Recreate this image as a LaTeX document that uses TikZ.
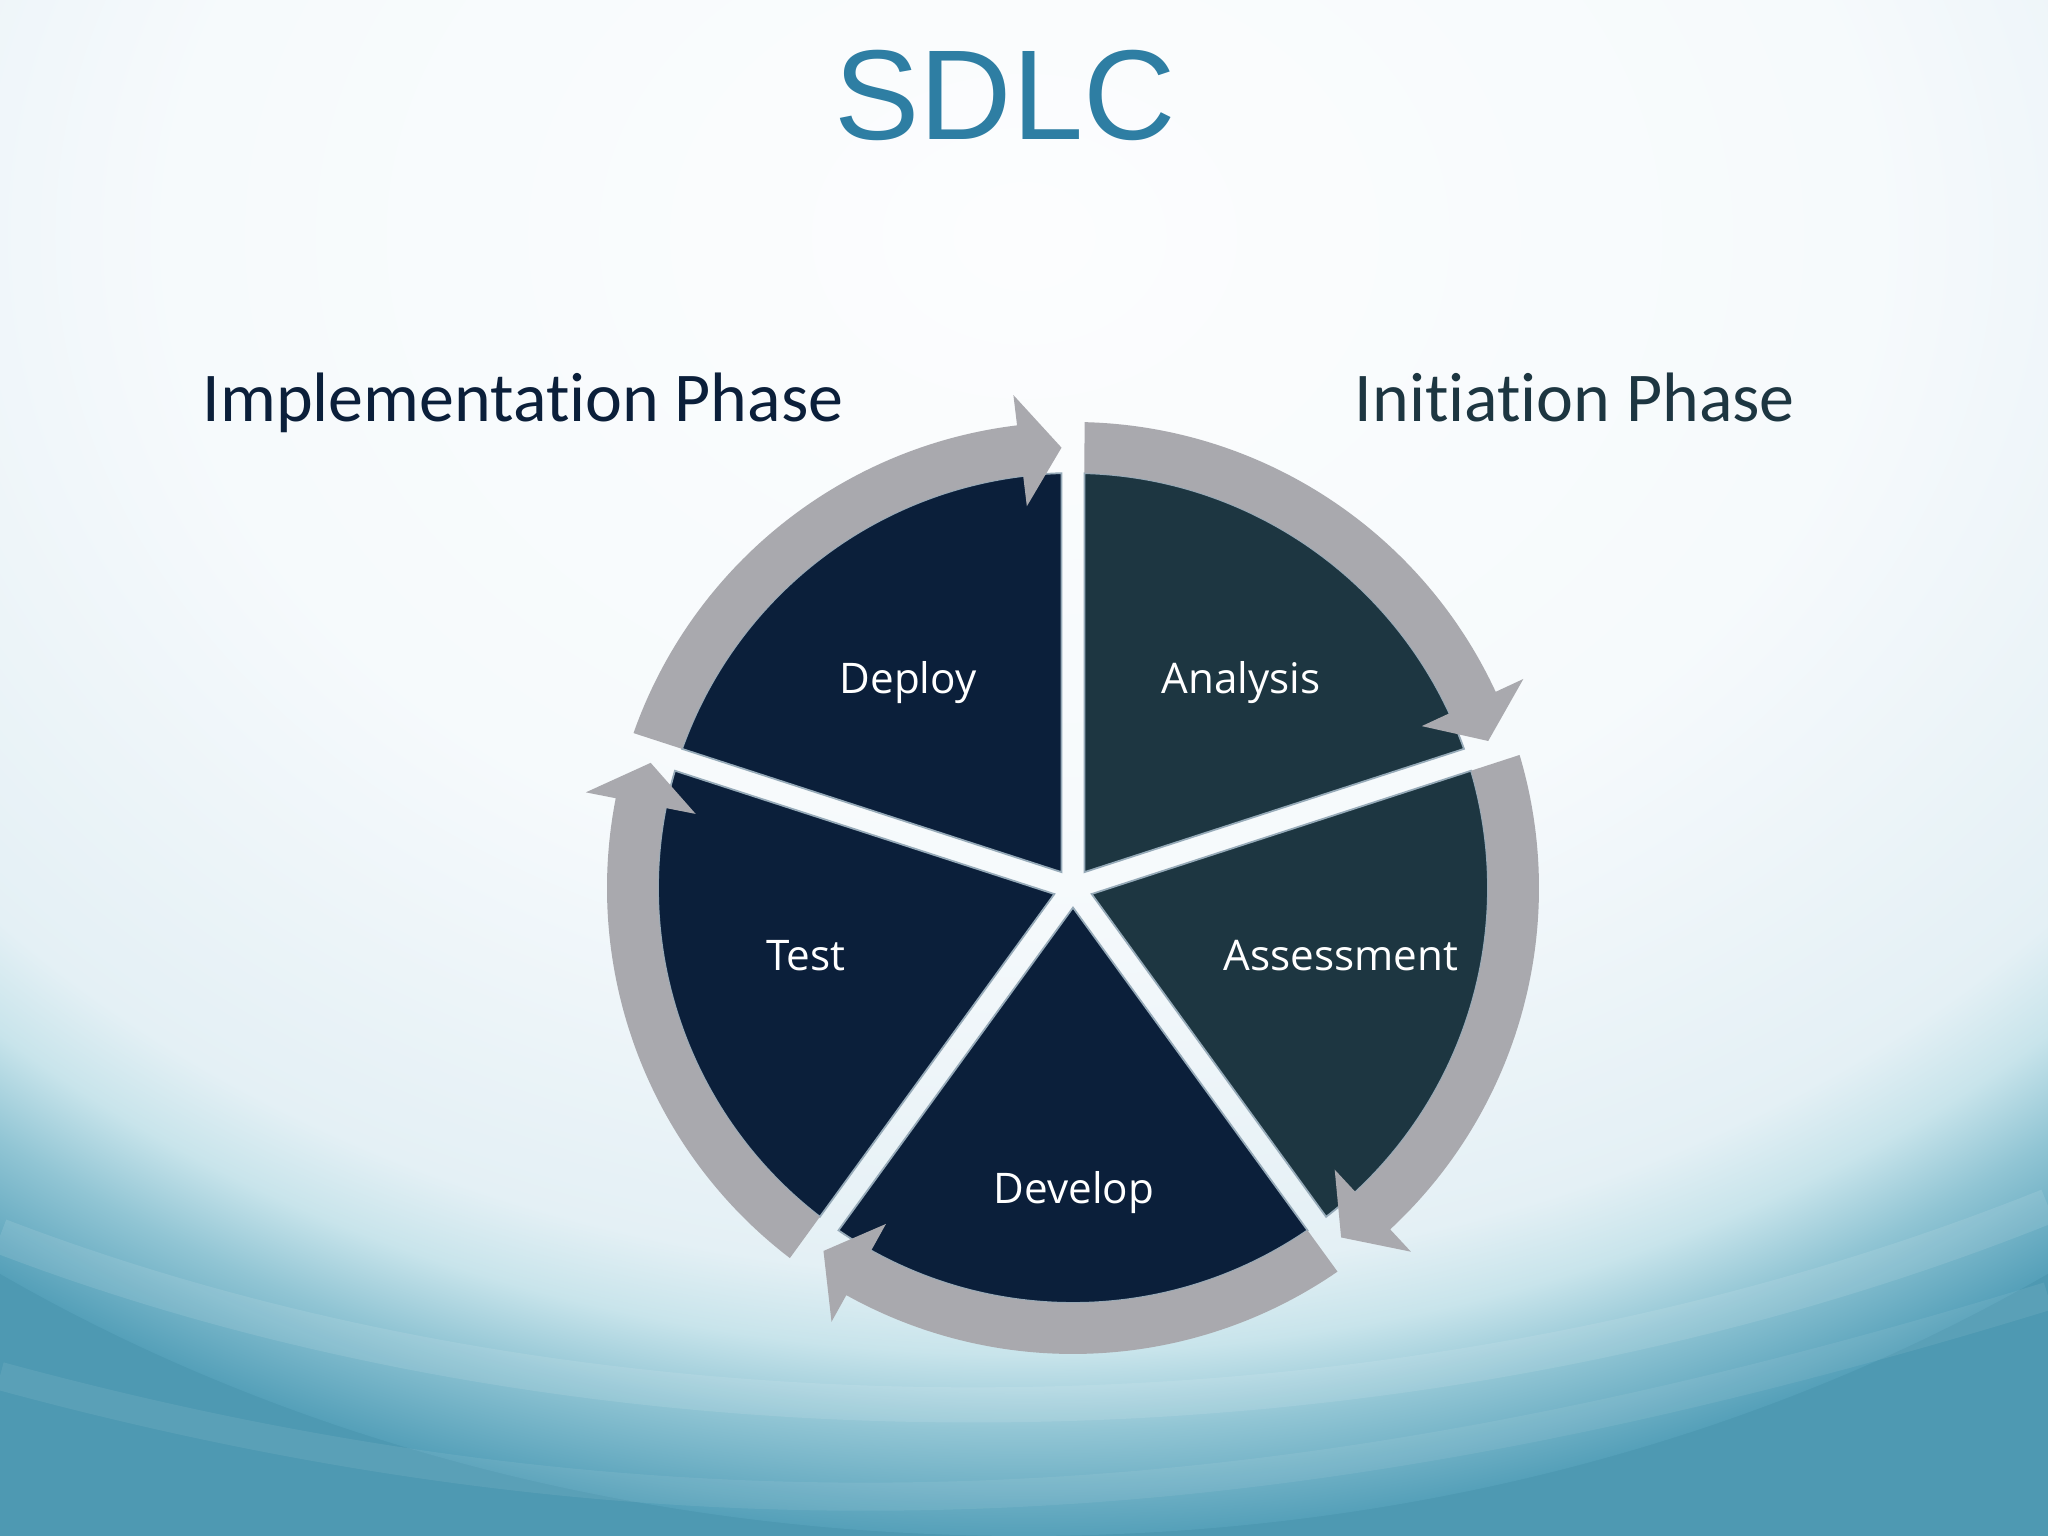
\documentclass[tikz,border=0pt]{standalone}
\usepackage{fontspec}
\setmainfont{Carlito}[Ligatures=NoCommon]
\newfontfamily\titlefont{Liberation Sans}
\newfontfamily\stagefont{Open Sans}
\definecolor{navy}{RGB}{11,31,58}
\definecolor{tealdark}{RGB}{29,54,65}
\definecolor{ringgray}{RGB}{169,169,174}
\definecolor{sliceedge}{RGB}{150,170,184}
\definecolor{titleblue}{RGB}{46,126,163}
\definecolor{bgcore}{RGB}{252,253,254}
\definecolor{bgtop}{RGB}{246,250,252}
\definecolor{bgsoft}{RGB}{238,245,249}
\definecolor{bgpale}{RGB}{228,240,245}
\definecolor{bglight}{RGB}{200,228,235}
\definecolor{bgmid}{RGB}{145,197,212}
\definecolor{bgdeep}{RGB}{85,160,185}
\definecolor{bgteal}{RGB}{78,153,178}
\pgfdeclareradialshading{bgglow}{\pgfpoint{0bp}{0bp}}{color(0bp)=(bgcore); color(12.5bp)=(bgtop); color(16bp)=(bgsoft); color(20bp)=(bgpale); color(21.5bp)=(bglight); color(23bp)=(bgmid); color(25bp)=(bgdeep); color(50bp)=(bgteal)}
\begin{document}
\begin{tikzpicture}[
  phase/.style={anchor=base west, inner sep=0pt, font=\fontsize{19.9}{24}\selectfont},
  stage/.style={anchor=base, text=white, font=\stagefont\fontsize{12}{14}\selectfont}]
\useasboundingbox (0,0) rectangle (20.48,15.36);
% background
\begin{scope}
  \clip (0,0) rectangle (20.48,15.36);
  \fill[bgteal] (0,0) rectangle (20.48,15.36);
  \shade[shading=bgglow] (10.24,13) ellipse [x radius=17, y radius=13];
  \draw[white, opacity=.1, line width=10pt] (0,3.0) .. controls (6,0.7) and (14,0.7) .. (20.48,3.3);
  \draw[white, opacity=.07, line width=8pt] (0,1.6) .. controls (7,-0.3) and (13,0.1) .. (20.48,2.4);
\end{scope}
\node[anchor=base, text=titleblue, font=\titlefont\fontsize{36.4}{40}\selectfont] (title) at (10.05,13.96) {SDLC};
\node[phase, text=navy] (impl) at (2.02,11.14) {Implementation Phase};
\node[phase, text=tealdark] (init) at (13.54,11.14) {Initiation Phase};
% wheel
\def\gap{0.115}
\def\rin{4.15}
\def\rmid{4.405}
\def\rout{4.66}
\begin{scope}[shift={(10.73,6.48)}]
\foreach \a/\col in {90/tealdark,18/tealdark,-54/navy,-126/navy,162/navy} {
  \pgfmathsetmacro\dinn{asin(\gap/\rin)}
  \fill[\col, draw=sliceedge, line width=.5pt] (\a-36:0.196) -- (\a-\dinn:\rin)
    arc[start angle=\a-\dinn, end angle=\a-72+\dinn, radius=\rin] -- cycle;
}
\foreach \a in {90,18,-54,-126,162} {
  \pgfmathsetmacro\dinn{asin(\gap/\rin)}
  \pgfmathsetmacro\dout{asin(\gap/\rout)}
  \pgfmathsetmacro\tipa{\a-72+asin(\gap/\rmid)}
  \pgfmathsetmacro\basea{\tipa+5.4}
  \fill[ringgray] (\a-\dout:\rout)
    arc[start angle=\a-\dout, end angle=\basea, radius=\rout]
    -- (\basea:\rmid+0.56) -- (\tipa:\rmid) -- (\basea:\rmid-0.56)
    -- (\basea:\rin)
    arc[start angle=\basea, end angle=\a-\dinn, radius=\rin] -- cycle;
}
\end{scope}
\node[stage] (deploy) at (9.08,8.42) {Deploy};
\node[stage] (analysis) at (12.41,8.42) {Analysis};
\node[stage] (assessment) at (13.41,5.65) {Assessment};
\node[stage] (test) at (8.06,5.65) {Test};
\node[stage] (develop) at (10.74,3.32) {Develop};
\end{tikzpicture}
\end{document}
